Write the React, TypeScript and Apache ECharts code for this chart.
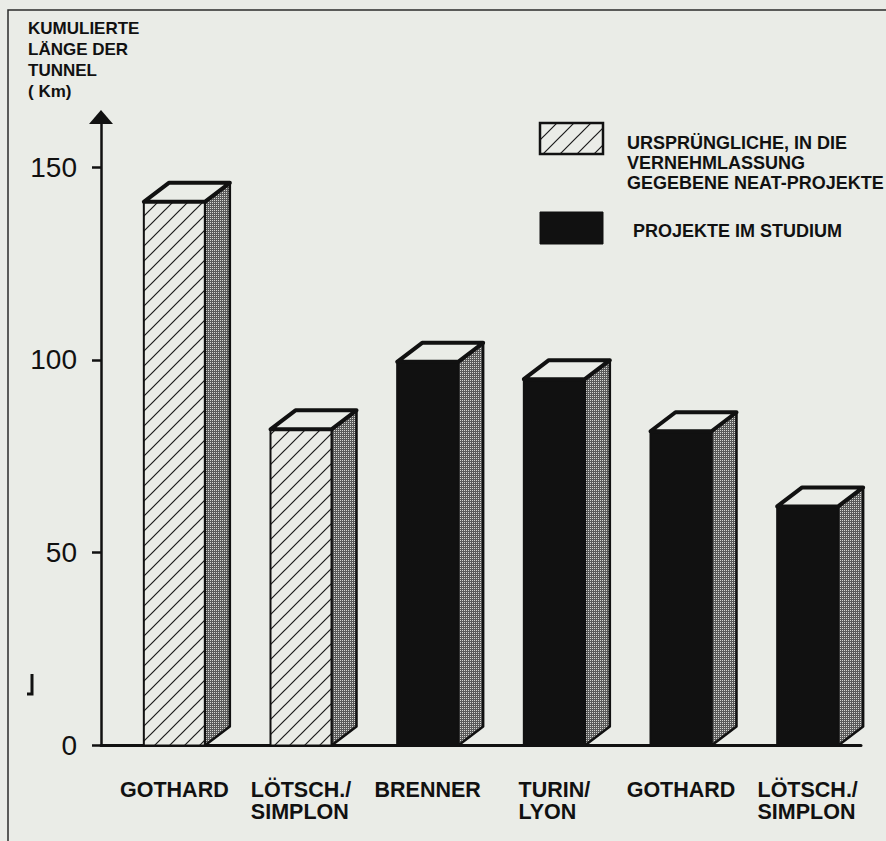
import React, { useEffect, useRef } from 'react';
import * as echarts from 'echarts';

// ---------- data ----------
const categories = ['GOTHARD', 'LÖTSCH./\nSIMPLON', 'BRENNER', 'TURIN/\nLYON', 'GOTHARD', 'LÖTSCH./\nSIMPLON'];
const originalProjects: (number | null)[] = [141, 82, null, null, null, null];
const studyProjects: (number | null)[] = [null, null, 99.5, 95, 81.5, 62];
const yTicks = [0, 50, 100, 150];
const yTitleLines = ['KUMULIERTE', 'LÄNGE DER', 'TUNNEL', '( Km)'];
const legendOriginalLines = ['URSPRÜNGLICHE, IN DIE', 'VERNEHMLASSUNG', 'GEGEBENE NEAT-PROJEKTE'];
const legendStudyLabel = 'PROJEKTE IM STUDIUM';
const seriesNames = ['Ursprüngliche NEAT-Projekte', 'Projekte im Studium'];

// ---------- style ----------
const BG = '#eaece7';
const INK = '#111111';
const FONT = '"Liberation Sans", Arial, sans-serif';
const FRONT_W = 61;
const SHIFT = 10;
const DX = 25;
const DY = 19;

function makeHatch(size: number) {
  const c = document.createElement('canvas');
  c.width = size;
  c.height = size;
  const ctx = c.getContext('2d')!;
  ctx.fillStyle = BG;
  ctx.fillRect(0, 0, size, size);
  ctx.strokeStyle = '#1a1a1a';
  ctx.lineWidth = 1.2;
  ctx.beginPath();
  ctx.moveTo(-2, size + 2);
  ctx.lineTo(size + 2, -2);
  ctx.moveTo(-2, 2);
  ctx.lineTo(2, -2);
  ctx.moveTo(size - 2, size + 2);
  ctx.lineTo(size + 2, size - 2);
  ctx.stroke();
  return c;
}

function makeDither() {
  const c = document.createElement('canvas');
  c.width = 2;
  c.height = 2;
  const ctx = c.getContext('2d')!;
  ctx.fillStyle = '#5a5a5a';
  ctx.fillRect(0, 0, 2, 2);
  ctx.fillStyle = '#d6d7d3';
  ctx.fillRect(0, 0, 1, 1);
  return c;
}

export default function App() {
  const ref = useRef<HTMLDivElement>(null);

  useEffect(() => {
    document.body.style.background = BG;
    const chart = echarts.init(ref.current!, null, { renderer: 'svg' });

    const hatch = { image: makeHatch(15), repeat: 'repeat' };
    const hatchLegend = { image: makeHatch(17), repeat: 'repeat' };
    const dither = { image: makeDither(), repeat: 'repeat' };

    const makeRender = (frontFill: any) => (params: any, api: any) => {
      const idx = api.value(0);
      const v = api.value(1);
      const t = api.coord([idx, v]);
      const b = api.coord([idx, 0]);
      const l = t[0] + SHIFT - FRONT_W / 2;
      const r = l + FRONT_W;
      const ty = t[1];
      const by = b[1];
      return {
        type: 'group',
        children: [
          {
            type: 'polygon',
            shape: { points: [[r, ty], [r + DX, ty - DY], [r + DX, by - DY], [r, by]] },
            style: { fill: dither, stroke: INK, lineWidth: 2.5, lineJoin: 'round' },
          },
          {
            type: 'rect',
            shape: { x: l, y: ty, width: FRONT_W, height: by - ty },
            style: { fill: frontFill, stroke: INK, lineWidth: 2 },
          },
          {
            type: 'polygon',
            shape: { points: [[l, ty], [l + DX, ty - DY], [r + DX, ty - DY], [r, ty]] },
            style: { fill: BG, stroke: INK, lineWidth: 4, lineJoin: 'round' },
          },
        ],
      };
    };

    const toData = (arr: (number | null)[]) =>
      arr.map((v, i) => [i, v]).filter((d) => d[1] != null);

    const option: any = {
      animation: false,
      backgroundColor: BG,
      grid: { left: 101, right: 25, top: 117, bottom: 95.5 },
      xAxis: {
        type: 'category',
        data: categories,
        axisLine: { show: true, lineStyle: { color: INK, width: 3 } },
        axisTick: { show: false },
        axisLabel: {
          interval: 0,
          margin: 33,
          padding: [0, 0, 0, 20],
          formatter: (val: string) =>
            val
              .split('\n')
              .map((s) => `{a|${s}}`)
              .join('\n'),
          rich: {
            a: {
              fontSize: 21.5,
              fontWeight: 'bold',
              fontFamily: FONT,
              color: INK,
              lineHeight: 22,
              align: 'left',
            },
          },
        },
        splitLine: { show: false },
      },
      yAxis: {
        type: 'value',
        min: 0,
        max: 163,
        axisLine: {
          show: true,
          symbol: ['none', 'triangle'],
          symbolSize: [24, 14],
          lineStyle: { color: INK, width: 2.5 },
        },
        axisTick: {
          show: true,
          length: 9,
          customValues: yTicks,
          lineStyle: { color: INK, width: 2.5 },
        },
        axisLabel: {
          customValues: yTicks,
          margin: 24,
          fontSize: 28,
          fontFamily: FONT,
          color: INK,
        },
        splitLine: { show: false },
      },
      series: [
        {
          name: seriesNames[0],
          type: 'custom',
          renderItem: makeRender(hatch),
          encode: { x: 0, y: 1 },
          data: toData(originalProjects),
          z: 2,
        },
        {
          name: seriesNames[1],
          type: 'custom',
          renderItem: makeRender(INK),
          encode: { x: 0, y: 1 },
          data: toData(studyProjects),
          z: 2,
        },
      ],
      graphic: [
        {
          type: 'rect',
          shape: { x: 8, y: 10, width: 900, height: 860 },
          style: { fill: 'none', stroke: '#2b2b2b', lineWidth: 1.5 },
          z: 1,
        },
        {
          type: 'text',
          x: 28,
          y: 18,
          style: {
            text: yTitleLines.join('\n'),
            fontSize: 17,
            fontWeight: 'bold',
            fontFamily: FONT,
            fill: INK,
            lineHeight: 21,
            verticalAlign: 'top',
            align: 'left',
          },
        },
        {
          type: 'rect',
          shape: { x: 540, y: 123, width: 63, height: 31 },
          style: { fill: hatchLegend, stroke: INK, lineWidth: 2.5 },
        },
        {
          type: 'text',
          x: 627,
          y: 133,
          style: {
            text: legendOriginalLines.join('\n'),
            fontSize: 18,
            fontWeight: 'bold',
            fontFamily: FONT,
            fill: INK,
            lineHeight: 20,
            verticalAlign: 'top',
            align: 'left',
          },
        },
        {
          type: 'rect',
          shape: { x: 540, y: 212, width: 63, height: 32 },
          style: { fill: INK, stroke: INK, lineWidth: 1 },
        },
        {
          type: 'text',
          x: 633,
          y: 222,
          style: {
            text: legendStudyLabel,
            fontSize: 18,
            fontWeight: 'bold',
            fontFamily: FONT,
            fill: INK,
            verticalAlign: 'top',
            align: 'left',
          },
        },
        {
          type: 'polyline',
          shape: { points: [[32, 674], [32, 694], [27, 694]] },
          style: { stroke: INK, lineWidth: 3, fill: 'none' },
        },
      ],
    };

    chart.setOption(option);
    return () => chart.dispose();
  }, []);

  return (
    <div
      ref={ref}
      style={{ position: 'absolute', left: 0, top: 0, width: 886, height: 841, background: BG }}
    />
  );
}
